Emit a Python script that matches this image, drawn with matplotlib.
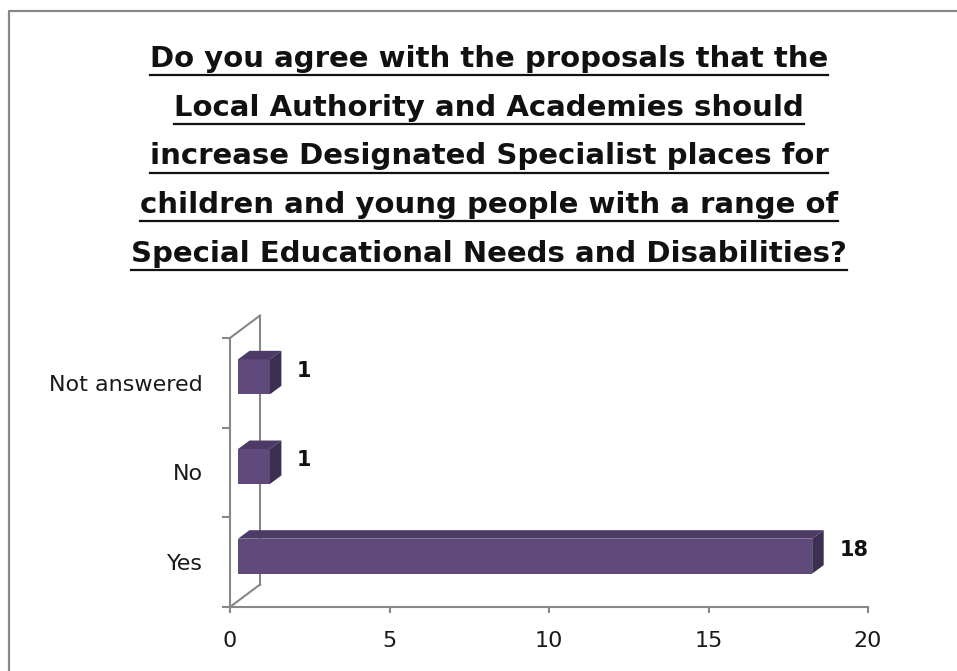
import matplotlib
matplotlib.use("Agg")
import matplotlib.pyplot as plt
from matplotlib.lines import Line2D
from matplotlib.patches import Polygon
from matplotlib.transforms import IdentityTransform, ScaledTranslation

# survey answers, bottom to top
categories = ["Yes", "No", "Not answered"]
counts = [18, 1, 1]
x_ticks = [0, 5, 10, 15, 20]
title_lines = [
    "Do you agree with the proposals that the",
    "Local Authority and Academies should",
    "increase Designated Specialist places for",
    "children and young people with a range of",
    "Special Educational Needs and Disabilities?",
]

plt.rcParams["font.family"] = ["DejaVu Sans"]

W, H = 957, 671
FRONT = "#5f4a7b"
TOP = "#4c3b64"
SIDE = "#3d2f51"
GREY = "#878787"

fig = plt.figure(figsize=(W / 100, H / 100), dpi=100)
ax = fig.add_axes([230 / W, (H - 607) / H, (868 - 230) / W, (607 - 338) / H])
ax.set_xlim(0, 20)
ax.set_ylim(0, 3)
ax.patch.set_visible(False)
for s in ["top", "right"]:
    ax.spines[s].set_visible(False)
for s in ["left", "bottom"]:
    ax.spines[s].set_color(GREY)
    ax.spines[s].set_linewidth(1.5)

ax.set_xticks(x_ticks)
ax.tick_params(axis="x", length=4.5, width=1.5, color=GREY, pad=13,
               labelsize=16, labelcolor="#1a1a1a")
ax.set_yticks([0, 1, 2, 3])
ax.set_yticklabels([])
ax.tick_params(axis="y", which="major", length=6, width=1.5, color=GREY)
ypos = [i + 0.5 for i in range(len(categories))]
ax.set_yticks(ypos, minor=True)
ax.set_yticklabels(categories, minor=True)
ax.tick_params(axis="y", which="minor", length=0, pad=19.5,
               labelsize=16, labelcolor="#1a1a1a")

# depth of the 3d box and of the bars, in pixels
WALL = (30, 22.5)
BAR_OFF = (8, 6)
BAR_D = (11.5, 8.5)
bar_h = 0.39


def px(x, y, dx=0, dy=0):
    p = ax.transData.transform((x, y))
    return (p[0] + dx, p[1] + dy)


def shifted(dx, dy):
    return ax.transData + ScaledTranslation(dx / 100, dy / 100, fig.dpi_scale_trans)


# back wall outline
ax.plot([0, 0], [0, 3], color=GREY, lw=1.5, transform=shifted(*WALL),
        clip_on=False, zorder=1)
for yy in [0, 3]:
    a = px(0, yy)
    b = px(0, yy, *WALL)
    ax.add_line(Line2D([a[0], b[0]], [a[1], b[1]], color=GREY, lw=1.5,
                       transform=IdentityTransform(), clip_on=False, zorder=1))

# bars: front face, top face, side face
ax.barh(ypos, counts, height=bar_h, color=FRONT, transform=shifted(*BAR_OFF),
        clip_on=False, zorder=3)
for y, v in zip(ypos, counts):
    tl = px(0, y + bar_h / 2, *BAR_OFF)
    tr = px(v, y + bar_h / 2, *BAR_OFF)
    br = px(v, y - bar_h / 2, *BAR_OFF)
    top = [tl, tr, (tr[0] + BAR_D[0], tr[1] + BAR_D[1]),
           (tl[0] + BAR_D[0], tl[1] + BAR_D[1])]
    side = [tr, br, (br[0] + BAR_D[0], br[1] + BAR_D[1]),
            (tr[0] + BAR_D[0], tr[1] + BAR_D[1])]
    ax.add_patch(Polygon(top, closed=True, facecolor=TOP, edgecolor="none",
                         transform=IdentityTransform(), clip_on=False, zorder=3))
    ax.add_patch(Polygon(side, closed=True, facecolor=SIDE, edgecolor="none",
                         transform=IdentityTransform(), clip_on=False, zorder=3))
    ax.annotate(str(v), xy=(v, y), xytext=(27 + BAR_OFF[0], 12),
                textcoords="offset pixels", ha="left", va="center",
                fontsize=15, fontweight="bold", color="#111111")

# chart border
fig.add_artist(Line2D([9, 9, W], [0, H - 10.5, H - 10.5], color=GREY, lw=1.6,
                      transform=IdentityTransform()))

# underlined title
texts = []
for i, line in enumerate(title_lines):
    yb = H - (67 + i * 48.75)
    t = fig.text(489 / W, yb / H, line, ha="center", va="baseline",
                 fontsize=21, fontweight="bold", color="#111111")
    texts.append((t, yb))
fig.canvas.draw()
r = fig.canvas.get_renderer()
for t, yb in texts:
    bb = t.get_window_extent(r)
    fig.add_artist(Line2D([bb.x0, bb.x1], [yb - 8, yb - 8], color="#111111",
                          lw=1.6, transform=IdentityTransform()))

fig.savefig("out.png", dpi=100)
